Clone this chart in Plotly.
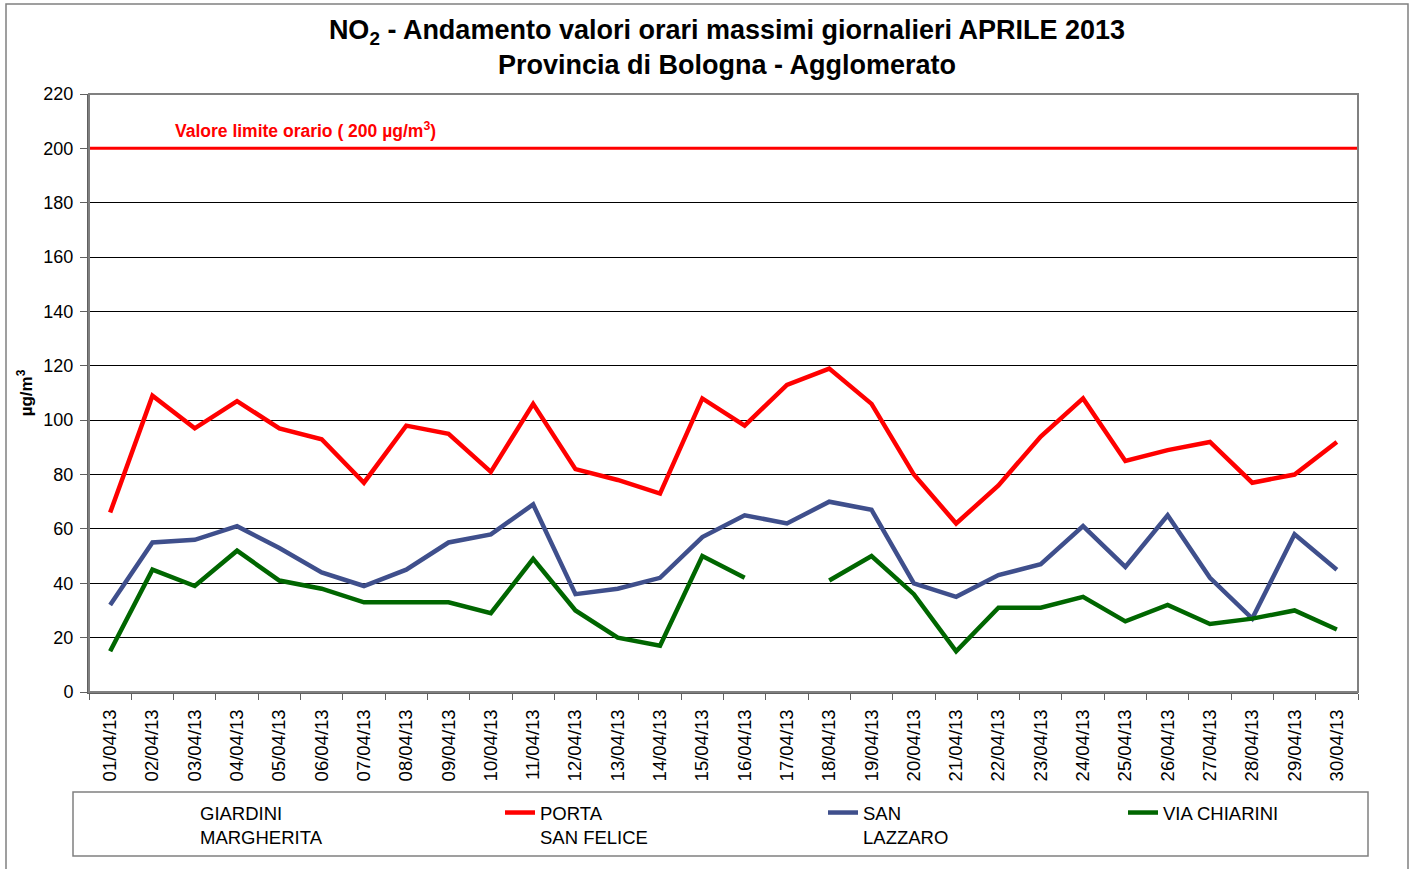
import plotly.graph_objects as go

dates = [f"{d:02d}/04/13" for d in range(1, 31)]

porta_san_felice = [66, 109, 97, 107, 97, 93, 77, 98, 95, 81, 106, 82, 78, 73, 108,
                    98, 113, 119, 106, 80, 62, 76, 94, 108, 85, 89, 92, 77, 80, 92]
san_lazzaro = [32, 55, 56, 61, 53, 44, 39, 45, 55, 58, 69, 36, 38, 42, 57,
               65, 62, 70, 67, 40, 35, 43, 47, 61, 46, 65, 42, 27, 58, 45]
via_chiarini = [15, 45, 39, 52, 41, 38, 33, 33, 33, 29, 49, 30, 20, 17, 50,
                42, None, 41, 50, 36, 15, 31, 31, 35, 26, 32, 25, 27, 30, 23]
giardini_margherita = [None] * 30

LIMIT = 200
y_ticks = list(range(0, 221, 20))

FONT = "Liberation Sans"

# plot area in pixels
W, H = 1415, 869
L, R, T, B = 89, 1358, 94, 692
PW, PH = R - L, B - T


def px(x):
    return (x - L) / PW


def py(y):
    return (B - y) / PH


fig = go.Figure()

series = [
    ("GIARDINI<br>MARGHERITA", giardini_margherita, "rgba(0,0,0,0)", "legend", 162),
    ("PORTA<br>SAN FELICE", porta_san_felice, "#FF0000", "legend2", 502),
    ("SAN<br>LAZZARO", san_lazzaro, "#3F4F8C", "legend3", 825),
    ("VIA CHIARINI", via_chiarini, "#006600", "legend4", 1125),
]

for name, vals, col, lg, _ in series:
    fig.add_trace(go.Scatter(
        x=dates, y=vals, name=name, mode="lines",
        line=dict(color=col, width=4.5), connectgaps=False,
        legend=lg,
    ))

legend_font = dict(family=FONT, size=18.5, color="black")
for name, vals, col, lg, xpos in series:
    fig.update_layout(**{lg: dict(
        x=px(xpos - 2), y=py(794), xanchor="left", yanchor="top",
        bgcolor="rgba(0,0,0,0)", borderwidth=0, font=legend_font,
        itemwidth=30, tracegroupgap=0, valign="top",
    )})

# limit line
fig.add_shape(type="line", xref="paper", yref="y", x0=0, x1=1, y0=LIMIT, y1=LIMIT,
              line=dict(color="#FF0000", width=3))
fig.add_annotation(
    text="Valore limite orario ( 200 µg/m<sup>3</sup>)", xref="paper", yref="y",
    x=px(173), y=LIMIT + 2, xanchor="left", yanchor="bottom", showarrow=False,
    font=dict(family=FONT, size=17.5, color="#FF0000", weight="bold"),
)

# plot area frame
fig.add_shape(type="rect", xref="paper", yref="paper", x0=0, x1=1, y0=0, y1=1,
              line=dict(color="#808080", width=2), layer="above")
# legend box
fig.add_shape(type="rect", xref="paper", yref="paper", x0=px(73), x1=px(1368),
              y0=py(856), y1=py(792), line=dict(color="#808080", width=1.5))
# outer frame
fig.add_shape(type="rect", xref="paper", yref="paper", x0=px(6), x1=px(1408),
              y0=py(875), y1=py(4), line=dict(color="#808080", width=1.5))

fig.update_layout(
    width=W, height=H,
    margin=dict(l=L, r=W - R, t=T, b=H - B, autoexpand=False),
    paper_bgcolor="white", plot_bgcolor="white",
    title=dict(
        text="NO<sub>2</sub> - Andamento valori orari massimi giornalieri APRILE 2013<br>Provincia di Bologna - Agglomerato",
        x=px(741), xanchor="center", y=1 - 39 / H, yanchor="middle",
        font=dict(family=FONT, size=27, color="black", weight="bold"),
    ),
    xaxis=dict(
        type="category", categoryorder="array", categoryarray=dates,
        range=[-0.5, len(dates) - 0.5],
        tickangle=-90, tickfont=dict(family=FONT, size=18.5, color="black"),
        showgrid=False, ticks="outside", ticklen=6, tickcolor="#606060",
        tickson="boundaries", showline=True, linecolor="#606060", linewidth=2,
        ticklabelstandoff=8,
    ),
    yaxis=dict(
        range=[0, 220], tickvals=y_ticks, tickfont=dict(family=FONT, size=18, color="black"),
        showgrid=True, gridcolor="black", gridwidth=1,
        ticks="outside", ticklen=7, tickcolor="#606060",
        showline=True, linecolor="#606060", linewidth=2,
        ticklabelstandoff=3,
        title=dict(text="µg/m<sup>3</sup>", font=dict(family=FONT, size=17, color="black", weight="bold"),
                   standoff=6),
        zeroline=False,
    ),
    showlegend=True,
)

fig.write_html("out.html", config={"displayModeBar": False},
               post_script="document.body.style.margin='0';")
